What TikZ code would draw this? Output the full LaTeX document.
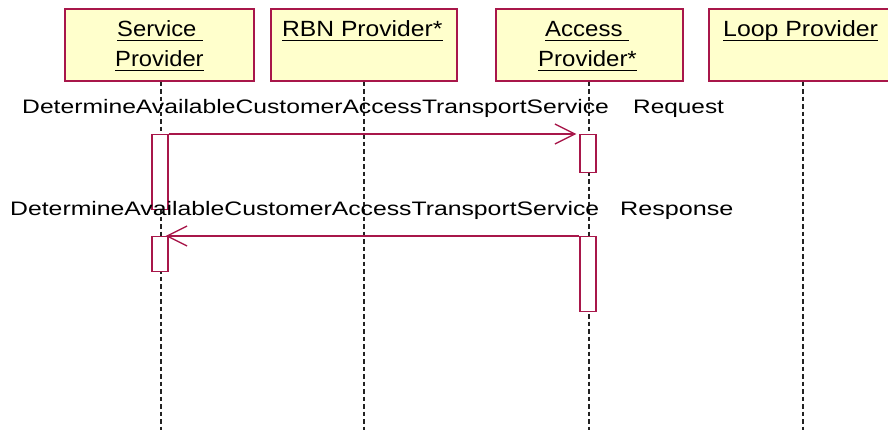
\documentclass[tikz,border=0pt]{standalone}
\usepackage{fontspec}
\setmainfont{Liberation Sans}
\usetikzlibrary{arrows.meta}
\definecolor{umlred}{HTML}{A8174A}
\definecolor{umlfill}{HTML}{FFFFCC}
\definecolor{lifegray}{HTML}{222222}
\begin{document}
\begin{tikzpicture}[x=1pt,y=-1pt,
  objbox/.style={draw=umlred, fill=umlfill, line width=1.6pt, inner sep=0pt, anchor=north west, minimum height=72pt},
  actbox/.style={draw=umlred, fill=white, line width=1.3pt, inner sep=0pt, anchor=north, minimum width=16pt},
  lifeline/.style={draw=lifegray, line width=1.6pt, dash pattern=on 4.5pt off 3pt},
  msgline/.style={draw=umlred, line width=1.3pt, -{Straight Barb[length=20pt,width=20pt,line width=1.3pt]}},
  objtext/.style={inner sep=0pt, anchor=base west, font=\fontsize{22}{26}\selectfont},
  msgtext/.style={inner sep=0pt, anchor=base west, font=\fontsize{19.5}{23}\selectfont},
  uline/.style={draw=black, line width=1pt}]
\useasboundingbox (0,0) rectangle (888,429);
\clip (0,0) rectangle (888,429);
\coordinate (bot) at (0,432);
% object boxes
\node[objbox, minimum width=189pt] (sp) at (64,8) {};
\node[objbox, minimum width=186pt] (rbn) at (270,8) {};
\node[objbox, minimum width=187pt] (ap) at (495,8) {};
\node[objbox, minimum width=188pt] (lp) at (708,8) {};
% lifelines
\draw[lifeline] ([xshift=1.5pt]sp.south) -- ([xshift=1.5pt]sp.south |- bot);
\draw[lifeline] (rbn.south) -- (rbn.south |- bot);
\draw[lifeline] ([xshift=-0.5pt]ap.south) -- ([xshift=-0.5pt]ap.south |- bot);
\draw[lifeline] (lp.south) -- (lp.south |- bot);
% object labels
\node[objtext] (t1) at (117,36) {\scalebox{1.08}[1]{Service\ }};
\node[objtext] (t2) at (115,66) {\scalebox{1.08}[1]{Provider}};
\node[objtext] (t3) at (282,36) {\scalebox{1.12}[1]{RBN Provider*}};
\node[objtext] (t4) at (545,36) {\scalebox{1.09}[1]{Access\ }};
\node[objtext] (t5) at (538,66) {\scalebox{1.09}[1]{Provider*}};
\node[objtext] (t6) at (723,36) {\scalebox{1.13}[1]{Loop Provider}};
\foreach \t in {t1,t2,t3,t4,t5,t6}
  \draw[uline] ([yshift=-4.5pt]\t.base west) -- ([yshift=-4.5pt]\t.base east);
% activation boxes
\node[actbox, minimum height=75pt] (a1) at (160,134) {};
\node[actbox, minimum height=35pt] (a2) at (160,236) {};
\node[actbox, minimum height=38pt] (a3) at (588,134) {};
\node[actbox, minimum height=75pt] (a4) at (588,236) {};
% messages
\draw[msgline, shorten >=3pt] (a1.north east) -- (a3.north west);
\draw[msgline, shorten >=-3pt] (a4.north west) -- (a2.north east);
% message labels
\node[msgtext] (m1) at (22,113) {\scalebox{1.265}[1]{DetermineAvailableCustomerAccessTransportService}};
\node[msgtext] (m1b) at (633,113) {\scalebox{1.25}[1]{Request}};
\node[msgtext] (m2) at (10,215) {\scalebox{1.27}[1]{DetermineAvailableCustomerAccessTransportService}};
\node[msgtext] (m2b) at (620,215) {\scalebox{1.29}[1]{Response}};
\end{tikzpicture}
\end{document}
